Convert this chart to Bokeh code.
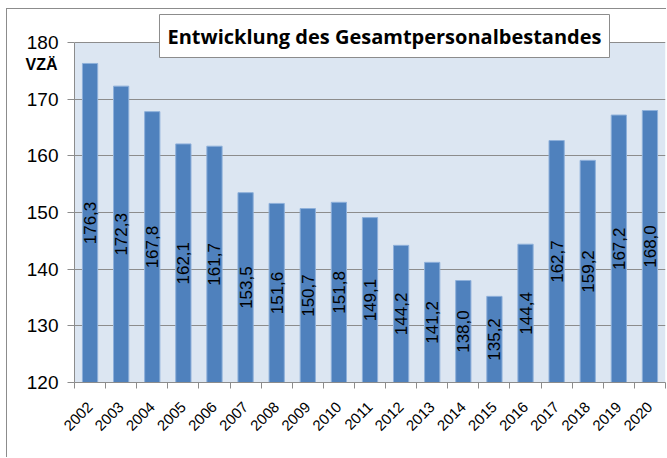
import math
from bokeh.plotting import figure
from bokeh.models import (ColumnDataSource, Label, FixedTicker, Range1d, LabelSet,
                          BoxAnnotation, LinearAxis)
from bokeh.core.properties import value
from bokeh.embed import file_html
from bokeh.resources import INLINE

years = [2002, 2003, 2004, 2005, 2006, 2007, 2008, 2009, 2010, 2011,
         2012, 2013, 2014, 2015, 2016, 2017, 2018, 2019, 2020]
values = [176.3, 172.3, 167.8, 162.1, 161.7, 153.5, 151.6, 150.7, 151.8, 149.1,
          144.2, 141.2, 138.0, 135.2, 144.4, 162.7, 159.2, 167.2, 168.0]
y_ticks = [120, 130, 140, 150, 160, 170, 180]
title_text = "Entwicklung des Gesamtpersonalbestandes"
unit_text = "VZÄ"
unit_pos = 176.2

y_min, y_max = 120, 180
px_per_unit = 340 / (y_max - y_min)
top_extra = 33 / px_per_unit  # room above the plot area for the title box
labels = [f"{v:.1f}".replace(".", ",") for v in values]
mids = [(y_min + v) / 2 for v in values]

src = ColumnDataSource(dict(x=years, top=values, lab=labels, mid=mids))

p = figure(width=660, height=449, output_backend="svg", toolbar_location=None,
           x_range=Range1d(years[0] - 0.5, years[-1] + 0.5),
           y_range=Range1d(y_min, y_max + top_extra),
           min_border_left=67, min_border_right=2, min_border_top=0, min_border_bottom=76)
p.margin = (8, 0, 0, 6)
p.styles = {"border-top": "1px solid #8c8c8c", "border-left": "1px solid #8c8c8c"}
p.border_fill_color = "white"
p.background_fill_color = "white"
p.outline_line_color = None

# plot-area background
p.add_layout(BoxAnnotation(bottom=y_min, top=y_max, fill_color="#dce6f2", fill_alpha=1,
                           line_color=None, level="image"))

p.vbar(x="x", top="top", bottom=y_min, width=0.49, source=src,
       fill_color="#4f81bd", line_color="#8eb0da", line_width=1)

p.add_layout(LabelSet(x="x", y="mid", text="lab", source=src, angle=math.pi / 2,
                      text_align="center", text_baseline="middle",
                      text_font=value("Liberation Sans"), text_font_size=value("17px"),
                      text_color="black"))

# title box
p.add_layout(Label(x=376, y=25.5, x_units="canvas", y_units="canvas",
                   text=title_text, text_align="center",
                   text_baseline="middle", text_font="Open Sans", text_font_style="bold",
                   text_font_size="20px", text_color="black",
                   background_fill_color="white", border_line_color="#8c8c8c",
                   border_line_width=1, padding=8))

# axes
p.xgrid.visible = False
p.ygrid.ticker = FixedTicker(ticks=y_ticks)
p.ygrid.grid_line_color = "#8c8c8c"
p.ygrid.grid_line_width = 1
p.yaxis.ticker = FixedTicker(ticks=y_ticks)
p.yaxis.bounds = (y_min, y_max)
p.yaxis.minor_tick_line_color = None
p.yaxis.major_tick_out = 7
p.yaxis.major_tick_in = 0
p.yaxis.axis_line_color = "#8c8c8c"
p.yaxis.major_tick_line_color = "#8c8c8c"
p.yaxis.major_label_text_font = "Liberation Sans"
p.yaxis.major_label_text_font_size = "19px"
p.yaxis.major_label_text_color = "black"
p.yaxis.major_label_standoff = 9

# unit label as an extra left axis holding a single tick label
unit_axis = LinearAxis(ticker=FixedTicker(ticks=[unit_pos]),
                       major_label_overrides={unit_pos: unit_text},
                       axis_line_color=None, major_tick_line_color=None,
                       minor_tick_line_color=None, major_tick_out=0, major_tick_in=0,
                       major_label_standoff=-34,
                       major_label_text_font="Liberation Sans",
                       major_label_text_font_style="bold",
                       major_label_text_font_size="16px",
                       major_label_text_color="black")
p.add_layout(unit_axis, "left")

p.xaxis.ticker = FixedTicker(ticks=years, minor_ticks=[y - 0.5 for y in years] + [years[-1] + 0.5])
p.xaxis.major_tick_out = 0
p.xaxis.major_tick_in = 0
p.xaxis.minor_tick_out = 6
p.xaxis.minor_tick_in = 0
p.xaxis.minor_tick_line_color = "#8c8c8c"
p.xaxis.axis_line_color = "#8c8c8c"
p.xaxis.major_label_orientation = math.pi / 4
p.xaxis.major_label_text_font = "Liberation Sans"
p.xaxis.major_label_text_font_size = "15px"
p.xaxis.major_label_text_color = "black"
p.xaxis.major_label_standoff = 16

open("out.html", "w").write(file_html(p, INLINE))
